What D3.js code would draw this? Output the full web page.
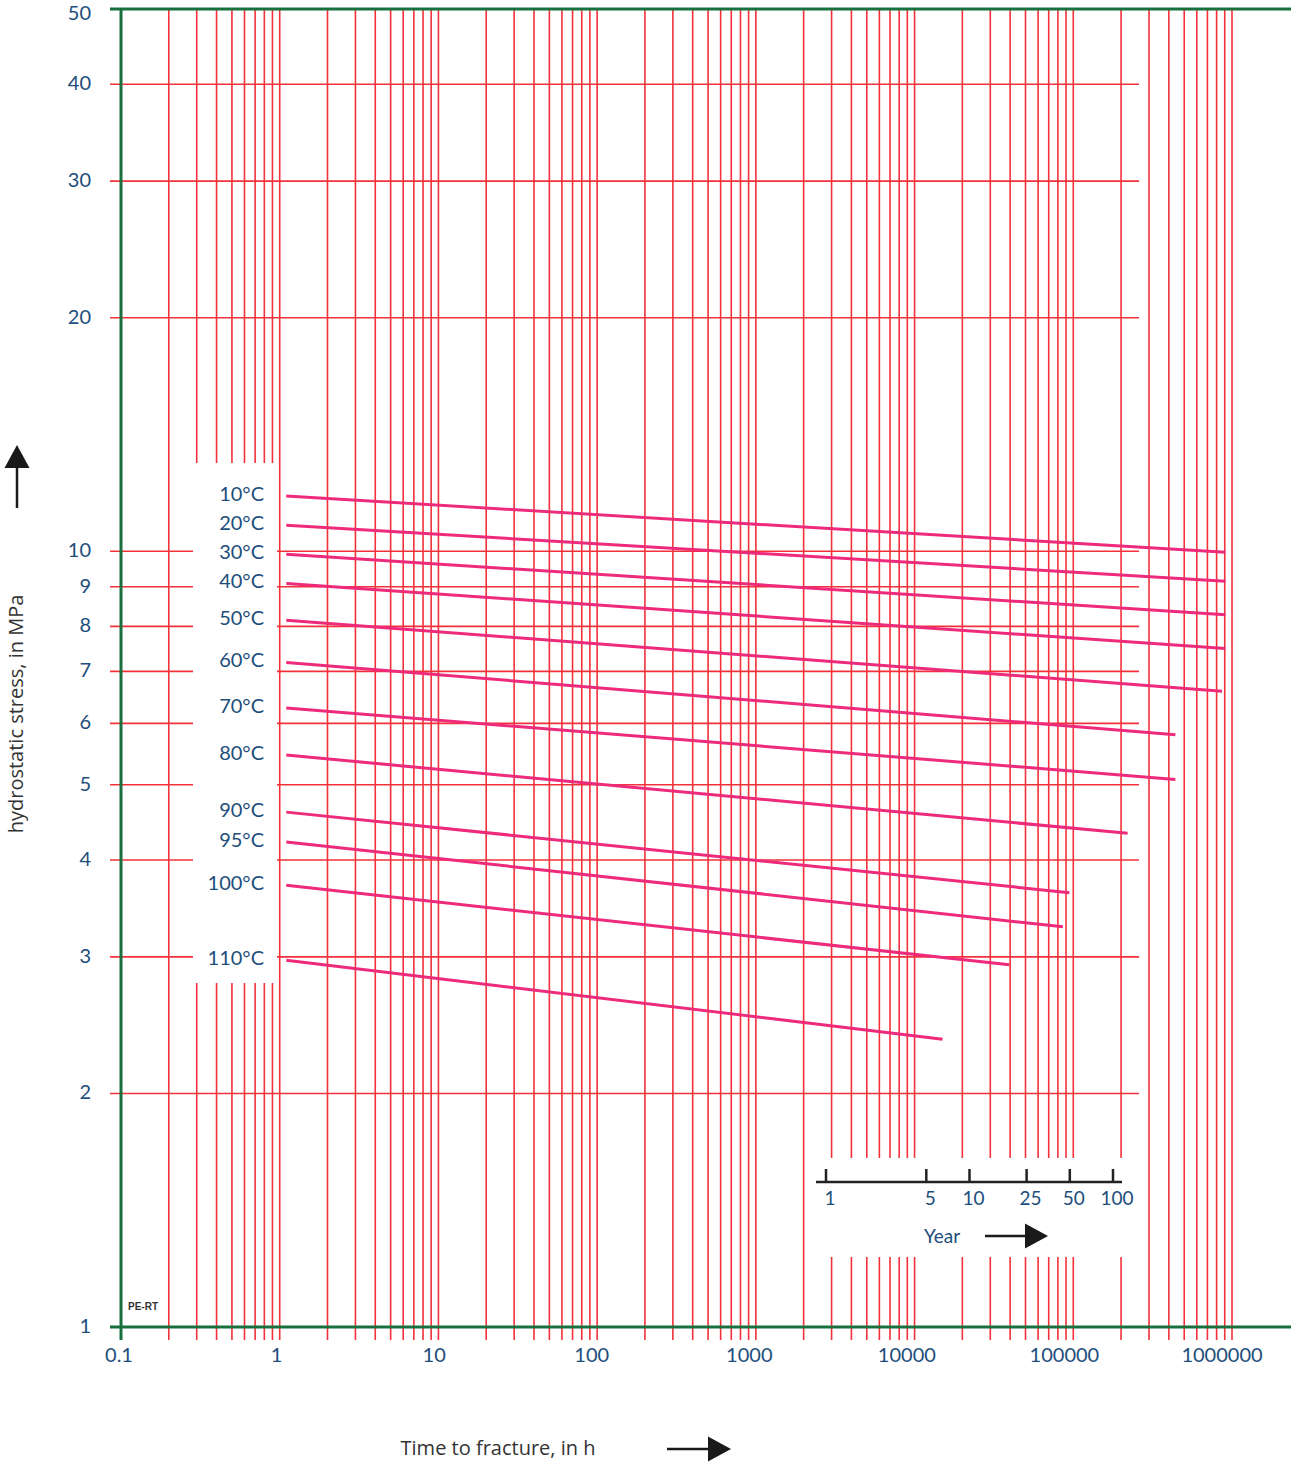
<!DOCTYPE html>
<html>
<head>
<meta charset="utf-8">
<script src="https://cdn.jsdelivr.net/npm/d3@7"></script>
<style>
  body { margin: 0; background: #fff; }
  text { font-family: Lato, 'Open Sans', sans-serif; }
</style>
</head>
<body>
<div id="chart"></div>
<script>
var width = 1291;
var height = 1464;

// time to fracture (h) and stress (MPa)
var temps = ['10°C', '20°C', '30°C', '40°C', '50°C', '60°C', '70°C', '80°C', '90°C', '95°C', '100°C', '110°C'];
var startHours = [1.1, 1.1, 1.1, 1.1, 1.1, 1.1, 1.1, 1.1, 1.1, 1.1, 1.1, 1.1];
var endHours = [910000, 910000, 910000, 910000, 865000, 440000, 440000, 220000, 94500, 86000, 39500, 15000];
var startStress = [11.78, 10.80, 9.91, 9.09, 8.15, 7.19, 6.28, 5.46, 4.61, 4.22, 3.71, 2.97];
var endStress = [9.97, 9.15, 8.28, 7.49, 6.60, 5.80, 5.08, 4.33, 3.63, 3.28, 2.93, 2.35];

var xTickValues = [0.1, 1, 10, 100, 1000, 10000, 100000, 1000000];
var xTickLabels = ['0.1', '1', '10', '100', '1000', '10000', '100000', '1000000'];
var yTickValues = [1, 2, 3, 4, 5, 6, 7, 8, 9, 10, 20, 30, 40, 50];

var yearValues = [1, 5, 10, 25, 50, 100];

var green = '#17703c';
var grid = '#f2313a';
var curve = '#ee2a7b';
var navy = '#1d4e7c';
var dark = '#333';

document.addEventListener('DOMContentLoaded', init, false);

function init() {

  var svg = d3.select('#chart')
    .append('svg')
      .attr('width', width)
      .attr('height', height);

  var x = d3.scaleLog().domain([0.1, 1000000]).range([121, 1232]);
  var xLabel = d3.scaleLog().domain([0.1, 1000000]).range([119, 1222]);
  var y = d3.scaleLog().domain([1, 50]).range([1327, 9]);

  drawGrid(svg, x, y);
  drawMasks(svg);
  drawFrame(svg, x, y);
  drawCurves(svg, x, y);
  drawLabels(svg, xLabel, y);
  drawYearScale(svg);
  drawTitles(svg);
}

function drawGrid(svg, x, y) {

  var g = svg.append('g').attr('class', 'grid');

  g.selectAll('.vgrid')
      .data(x.ticks())
      .enter()
    .append('line')
      .attr('x1', function (d) { return x(d); })
      .attr('x2', function (d) { return x(d); })
      .attr('y1', y(50))
      .attr('y2', y(1) + 13)
      .attr('stroke', grid)
      .attr('stroke-width', 1.6);

  g.selectAll('.hgrid')
      .data(yTickValues.filter(function (d) { return d > 1 && d < 50; }))
      .enter()
    .append('line')
      .attr('x1', 110)
      .attr('x2', 1139)
      .attr('y1', function (d) { return y(d); })
      .attr('y2', function (d) { return y(d); })
      .attr('stroke', grid)
      .attr('stroke-width', 1.6);
}

function drawMasks(svg) {

  // white panels behind temperature labels and the year scale
  svg.append('rect')
    .attr('x', 193).attr('y', 463)
    .attr('width', 84).attr('height', 520)
    .attr('fill', '#fff');

  svg.append('rect')
    .attr('x', 810).attr('y', 1158)
    .attr('width', 330).attr('height', 99)
    .attr('fill', '#fff');
}

function drawFrame(svg, x, y) {

  svg.append('line')
    .attr('x1', x(0.1)).attr('x2', x(0.1))
    .attr('y1', y(50) - 1).attr('y2', y(1) + 13)
    .attr('stroke', green).attr('stroke-width', 3);

  svg.append('line')
    .attr('x1', 110).attr('x2', width)
    .attr('y1', y(50)).attr('y2', y(50))
    .attr('stroke', green).attr('stroke-width', 3);

  svg.append('line')
    .attr('x1', 110).attr('x2', width)
    .attr('y1', y(1)).attr('y2', y(1))
    .attr('stroke', green).attr('stroke-width', 3);

  svg.append('text')
    .attr('x', 128)
    .attr('y', 1310)
    .attr('fill', dark)
    .style('font-family', "'Liberation Sans', Arial, sans-serif")
    .style('font-size', '10px')
    .style('font-weight', 'bold')
    .text('PE-RT');
}

function drawCurves(svg, x, y) {

  var rows = temps.map(function (t, i) {
    return {
      key: t,
      value: [
        { h: startHours[i], s: startStress[i] },
        { h: endHours[i], s: endStress[i] }
      ]
    };
  });

  var line = d3.line()
    .x(function (d) { return x(d.h); })
    .y(function (d) { return y(d.s); });

  svg.selectAll('.curve')
      .data(rows)
      .enter()
    .append('path')
      .attr('fill', 'none')
      .attr('stroke', curve)
      .attr('stroke-width', 3)
      .attr('d', function (d) { return line(d.value); });

  svg.selectAll('.temp')
      .data(rows)
      .enter()
    .append('text')
      .attr('x', 264)
      .attr('y', function (d) { return y(d.value[0].s) - 2; })
      .attr('dy', '0.35em')
      .attr('fill', navy)
      .style('font-size', '20px')
      .style('text-anchor', 'end')
      .text(function (d) { return d.key; });
}

function drawLabels(svg, xLabel, y) {

  svg.selectAll('.xlab')
      .data(xTickValues)
      .enter()
    .append('text')
      .attr('x', function (d) { return xLabel(d); })
      .attr('y', 1362)
      .attr('fill', navy)
      .style('font-size', '20px')
      .style('text-anchor', 'middle')
      .text(function (d, i) { return xTickLabels[i]; });

  svg.selectAll('.ylab')
      .data(yTickValues)
      .enter()
    .append('text')
      .attr('x', 91)
      .attr('y', function (d) { return Math.max(y(d) - 1, 13); })
      .attr('dy', '0.35em')
      .attr('fill', navy)
      .style('font-size', '20px')
      .style('text-anchor', 'end')
      .text(function (d) { return d; });
}

function drawYearScale(svg) {

  var yr = d3.scaleLog().domain([1, 100]).range([826, 1113]);
  var g = svg.append('g');

  g.append('line')
    .attr('x1', 816).attr('x2', 1122)
    .attr('y1', 1182).attr('y2', 1182)
    .attr('stroke', '#222').attr('stroke-width', 2.5);

  g.selectAll('.ytick')
      .data(yearValues)
      .enter()
    .append('line')
      .attr('x1', function (d) { return yr(d); })
      .attr('x2', function (d) { return yr(d); })
      .attr('y1', 1169)
      .attr('y2', 1182)
      .attr('stroke', '#222')
      .attr('stroke-width', 2.5);

  g.selectAll('.ylabel')
      .data(yearValues)
      .enter()
    .append('text')
      .attr('x', function (d) { return yr(d) + 4; })
      .attr('y', 1205)
      .attr('fill', navy)
      .style('font-size', '19px')
      .style('text-anchor', 'middle')
      .text(function (d) { return d; });

  g.append('text')
    .attr('x', 942)
    .attr('y', 1243)
    .attr('fill', navy)
    .style('font-size', '19px')
    .style('text-anchor', 'middle')
    .text('Year');

  drawArrow(svg, 985, 1236, 1048, 1236);
}

function drawTitles(svg) {

  svg.append('text')
    .attr('transform', 'translate(23,714) rotate(-90)')
    .attr('fill', dark)
    .style('font-family', "'Open Sans', sans-serif")
    .style('font-size', '20px')
    .style('text-anchor', 'middle')
    .text('hydrostatic stress, in MPa');

  drawArrow(svg, 17, 508, 17, 445);

  svg.append('text')
    .attr('x', 498)
    .attr('y', 1455)
    .attr('fill', dark)
    .style('font-family', "'Open Sans', sans-serif")
    .style('font-size', '20px')
    .style('text-anchor', 'middle')
    .text('Time to fracture, in h');

  drawArrow(svg, 667, 1449, 731, 1449);
}

function drawArrow(svg, x1, y1, x2, y2) {

  var len = Math.sqrt((x2 - x1) * (x2 - x1) + (y2 - y1) * (y2 - y1));
  var ux = (x2 - x1) / len;
  var uy = (y2 - y1) / len;
  var head = 23;
  var half = 12.5;
  var bx = x2 - ux * head;
  var by = y2 - uy * head;

  svg.append('line')
    .attr('x1', x1).attr('y1', y1)
    .attr('x2', bx).attr('y2', by)
    .attr('stroke', '#1a1a1a')
    .attr('stroke-width', 2.5);

  svg.append('path')
    .attr('d', 'M' + x2 + ',' + y2 +
      'L' + (bx - uy * half) + ',' + (by + ux * half) +
      'L' + (bx + uy * half) + ',' + (by - ux * half) + 'Z')
    .attr('fill', '#1a1a1a');
}
</script>
</body>
</html>
